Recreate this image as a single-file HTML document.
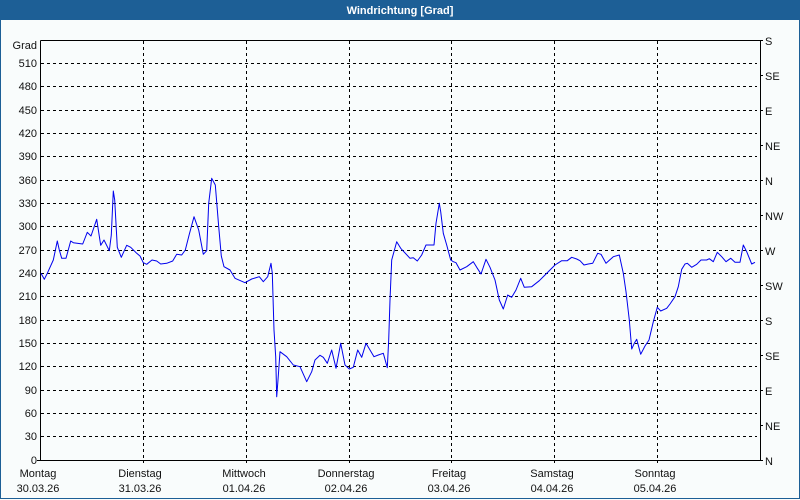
<!DOCTYPE html>
<html><head><meta charset="utf-8"><style>
html,body{margin:0;padding:0;background:#f9fcfc;}
svg{display:block;}
text{font-family:"Liberation Sans",sans-serif;font-size:11px;fill:#111;}
</style></head><body>
<svg width="800" height="500" viewBox="0 0 800 500" xmlns="http://www.w3.org/2000/svg">
<rect x="0" y="0" width="800" height="500" fill="#f9fcfc"/>
<rect x="0" y="0" width="800" height="20" fill="#1d5f96"/>
<rect x="0.5" y="0.5" width="799" height="498" fill="none" stroke="#1d5f96" stroke-width="1"/>
<text x="400" y="14" text-anchor="middle" style="fill:#fff;font-weight:bold;font-size:11px">Windrichtung [Grad]</text>

<g stroke="#000" stroke-width="1" stroke-dasharray="3,3" fill="none">
<line x1="41" y1="436.5" x2="757" y2="436.5"/>
<line x1="41" y1="413.5" x2="757" y2="413.5"/>
<line x1="41" y1="390.5" x2="757" y2="390.5"/>
<line x1="41" y1="366.5" x2="757" y2="366.5"/>
<line x1="41" y1="343.5" x2="757" y2="343.5"/>
<line x1="41" y1="320.5" x2="757" y2="320.5"/>
<line x1="41" y1="296.5" x2="757" y2="296.5"/>
<line x1="41" y1="273.5" x2="757" y2="273.5"/>
<line x1="41" y1="250.5" x2="757" y2="250.5"/>
<line x1="41" y1="226.5" x2="757" y2="226.5"/>
<line x1="41" y1="203.5" x2="757" y2="203.5"/>
<line x1="41" y1="180.5" x2="757" y2="180.5"/>
<line x1="41" y1="156.5" x2="757" y2="156.5"/>
<line x1="41" y1="133.5" x2="757" y2="133.5"/>
<line x1="41" y1="110.5" x2="757" y2="110.5"/>
<line x1="41" y1="86.5" x2="757" y2="86.5"/>
<line x1="41" y1="63.5" x2="757" y2="63.5"/>
<line x1="143.5" y1="41" x2="143.5" y2="463"/>
<line x1="246.5" y1="41" x2="246.5" y2="463"/>
<line x1="349.5" y1="41" x2="349.5" y2="463"/>
<line x1="451.5" y1="41" x2="451.5" y2="463"/>
<line x1="554.5" y1="41" x2="554.5" y2="463"/>
<line x1="657.5" y1="41" x2="657.5" y2="463"/>
</g>

<g stroke="#000" stroke-width="1" fill="none">
<polyline points="40.5,40.5 760.5,40.5 760.5,460.5 37,460.5"/>
<line x1="40.5" y1="40.5" x2="40.5" y2="460.5"/>
<line x1="760" y1="75.5" x2="763" y2="75.5"/>
<line x1="760" y1="110.5" x2="763" y2="110.5"/>
<line x1="760" y1="145.5" x2="763" y2="145.5"/>
<line x1="760" y1="180.5" x2="763" y2="180.5"/>
<line x1="760" y1="215.5" x2="763" y2="215.5"/>
<line x1="760" y1="250.5" x2="763" y2="250.5"/>
<line x1="760" y1="285.5" x2="763" y2="285.5"/>
<line x1="760" y1="320.5" x2="763" y2="320.5"/>
<line x1="760" y1="355.5" x2="763" y2="355.5"/>
<line x1="760" y1="390.5" x2="763" y2="390.5"/>
<line x1="760" y1="425.5" x2="763" y2="425.5"/>
<line x1="760" y1="460.5" x2="763" y2="460.5"/>
<line x1="760" y1="40.5" x2="763" y2="40.5"/>
</g>

<polyline fill="none" stroke="#0000ee" stroke-width="1" stroke-linejoin="round" points="41,273.3 44.3,279.3 47.3,273.3 53.3,260 57.3,241 59.3,250 61.7,258.3 66,258.3 70.7,241 73.3,242.7 82.7,244 87.3,232.3 91,236 96.7,219.3 100.7,245.3 104,240 109.3,250.7 111.3,235 113.3,191 114.7,200 117.3,247.3 121.3,257.3 126.7,245.3 130.7,247.3 136.7,253.3 140,256 143.3,262.7 146.7,264.3 152,260 156.7,261 160.7,264 166.7,263.3 172.7,261 176.7,254.3 181.7,255 185.3,250 189.3,234.3 194,216.7 198.7,230 203.3,254.3 206.7,250.7 208.7,203.3 211.7,178.3 215.3,185 218.7,226.7 221.3,256 224,266.7 230,270 235,278.3 245,282.7 251.7,279 259.3,276.7 263.3,281.7 267.7,276.7 271,263.3 272.3,273.3 274,330 275.7,356.7 276.7,396.7 278,380 280,351.7 286.7,356.7 293.3,365 300,366.7 306.7,381.7 311.7,371.7 315,360 320,355.3 323.3,357.3 327.3,363.3 331.7,350 336,368.3 340.7,343.3 345,365 349.3,369 353.3,367.3 357.7,350 361.7,357.3 366,343.3 374,356.7 378.3,355 383.3,353.3 387.3,367.7 388.7,340 390,300 391.7,260 396.7,241.7 400.7,248.3 410,258.3 413.3,257.7 417.3,261 421.7,255 426,245 434,245 436,223.3 439.3,203.3 440.7,211.7 443.3,233.3 446.7,245 450.7,260 453.3,261.7 456,262.7 460,270 466.7,266.7 473.3,261.7 476.7,267.3 481,274 486,259.3 490,267.3 495,280 499.3,300 503.3,309 507.7,295 511.7,297.3 516,290 520.7,278.3 524.3,287.3 531.7,286.7 539.3,280.7 545,275 550,270 555,265 561.7,260.7 567.3,260.7 571.7,257.3 576.7,259 580,260.7 584,265 588.3,264 592.7,263.3 597.7,253.3 601,254.3 606,263.3 613.3,256.7 619.3,255 623.3,273.3 626,291.7 629.3,320 631.7,349 634.3,343.3 636.7,339.3 640.7,354.3 645,346 649,340 653.3,321.7 657.3,307.3 660.7,311 666.7,308.3 670,304 675,296.7 678.3,286.7 681.7,269.3 685,264 687.3,263.3 691.7,267.3 696.7,264.3 701,260 706.7,260 709.3,258.7 713.3,261.7 717.3,252.3 721.7,256.7 726,261.7 730.7,258.3 735,262.3 740,262.3 743.3,245 746.7,251.7 751.7,264 755,262.3"/>

<g text-anchor="end">
<text x="37" y="49">Grad</text>
<text x="37" y="67">510</text>
<text x="37" y="90">480</text>
<text x="37" y="114">450</text>
<text x="37" y="137">420</text>
<text x="37" y="160">390</text>
<text x="37" y="184">360</text>
<text x="37" y="207">330</text>
<text x="37" y="230">300</text>
<text x="37" y="254">270</text>
<text x="37" y="277">240</text>
<text x="37" y="300">210</text>
<text x="37" y="324">180</text>
<text x="37" y="347">150</text>
<text x="37" y="370">120</text>
<text x="37" y="394">90</text>
<text x="37" y="417">60</text>
<text x="37" y="440">30</text>
<text x="37" y="464">0</text>
</g>

<g text-anchor="start">
<text x="765" y="45">S</text>
<text x="765" y="80">SE</text>
<text x="765" y="115">E</text>
<text x="765" y="150">NE</text>
<text x="765" y="185">N</text>
<text x="765" y="220">NW</text>
<text x="765" y="255">W</text>
<text x="765" y="290">SW</text>
<text x="765" y="325">S</text>
<text x="765" y="360">SE</text>
<text x="765" y="395">E</text>
<text x="765" y="430">NE</text>
<text x="765" y="465">N</text>
</g>

<g text-anchor="middle">
<text x="38" y="477">Montag</text>
<text x="38" y="492">30.03.26</text>
<text x="140" y="477">Dienstag</text>
<text x="140" y="492">31.03.26</text>
<text x="244" y="477">Mittwoch</text>
<text x="244" y="492">01.04.26</text>
<text x="346" y="477">Donnerstag</text>
<text x="346" y="492">02.04.26</text>
<text x="449" y="477">Freitag</text>
<text x="449" y="492">03.04.26</text>
<text x="552" y="477">Samstag</text>
<text x="552" y="492">04.04.26</text>
<text x="655" y="477">Sonntag</text>
<text x="655" y="492">05.04.26</text>
</g>
</svg>
</body></html>
